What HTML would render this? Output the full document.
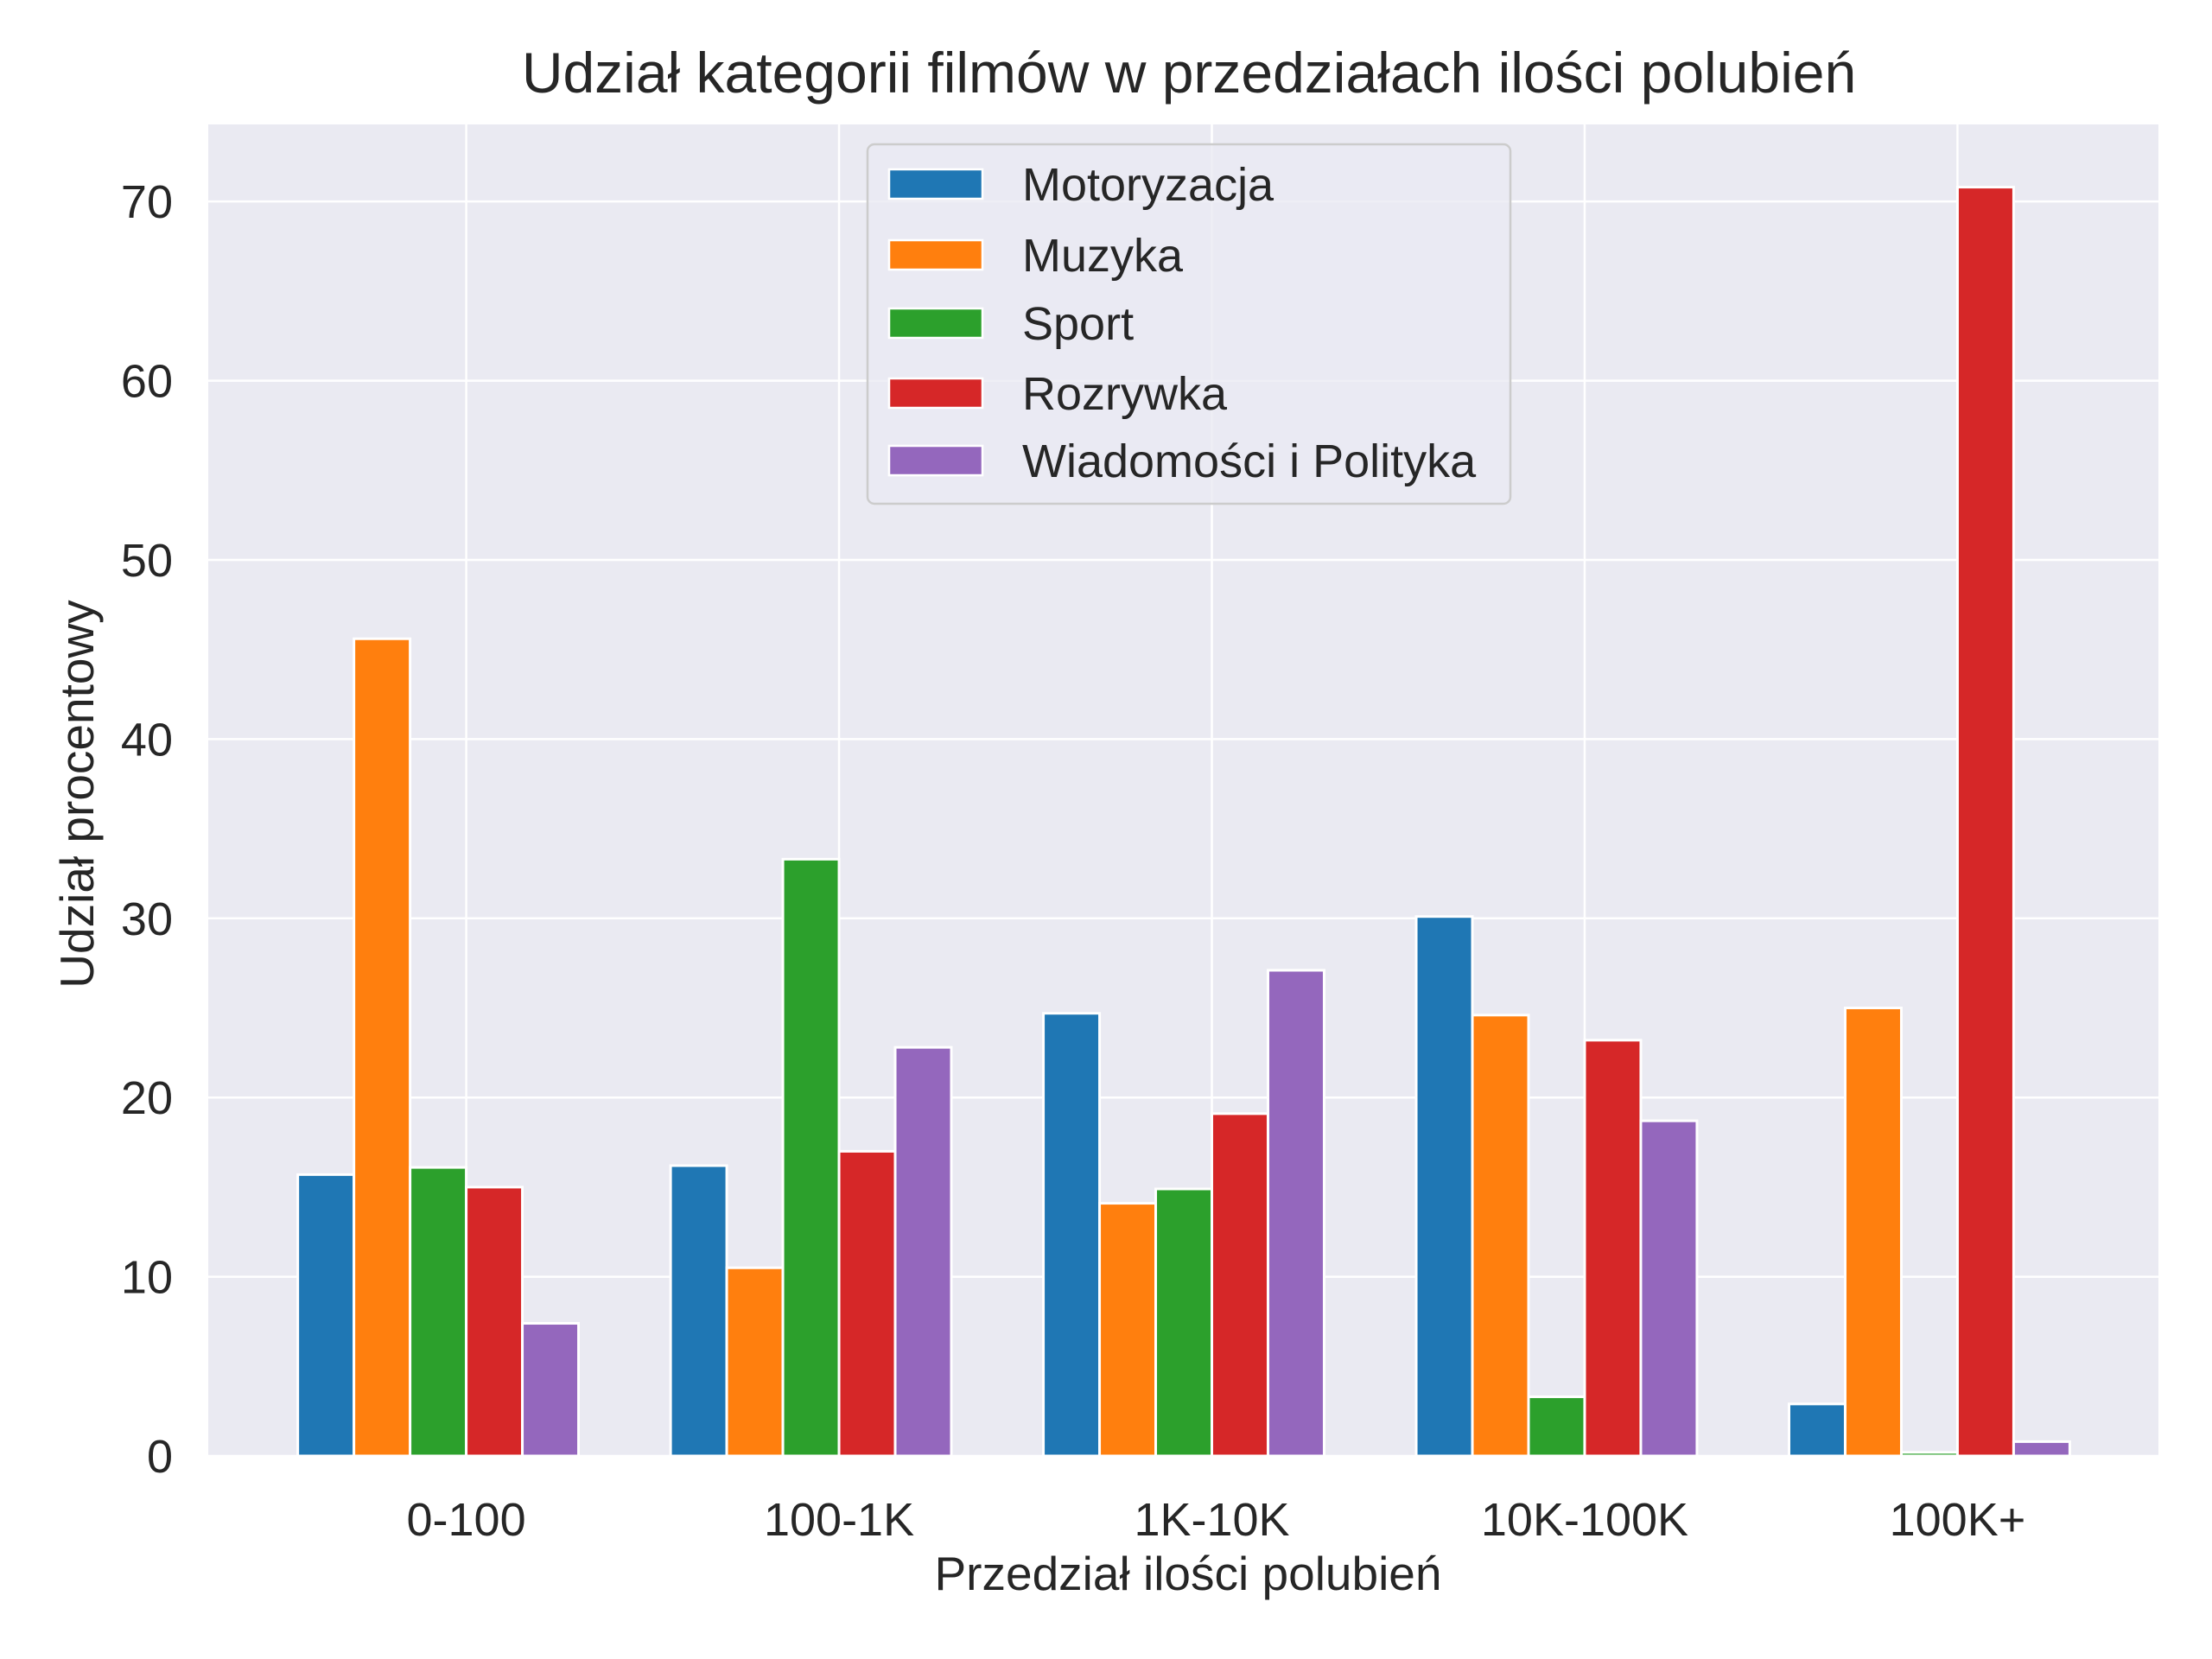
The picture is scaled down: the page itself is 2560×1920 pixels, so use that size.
<!DOCTYPE html>
<html><head><meta charset="utf-8"><style>
html,body{margin:0;padding:0;background:#fff;}
svg{display:block;font-family:"Liberation Sans",Arial,sans-serif;}
</style></head><body>
<svg id="chart" width="2560" height="1920" viewBox="0 0 2560 1920" xmlns="http://www.w3.org/2000/svg"></svg>
<script>
const categories = ["0-100","100-1K","1K-10K","10K-100K","100K+"];
const seriesNames = ["Motoryzacja","Muzyka","Sport","Rozrywka","Wiadomości i Polityka"];
const seriesColors = ["#1f77b4","#ff7f0e","#2ca02c","#d62728","#9467bd"];
const motoryzacja = [15.7,16.2,24.7,30.1,2.9];
const muzyka = [45.6,10.5,14.1,24.6,25.0];
const sport = [16.1,33.3,14.9,3.3,0.2];
const rozrywka = [15.0,17.0,19.1,23.2,70.8];
const wiadomosci = [7.4,22.8,27.1,18.7,0.8];
const yTicks = [0,10,20,30,40,50,60,70];

const seriesValues = [motoryzacja,muzyka,sport,rozrywka,wiadomosci];
const NS="http://www.w3.org/2000/svg";
const svg=document.getElementById('chart');
const L=241,R=2498,T=144,B=1685;
const x0=-0.692,x1=4.539,yMax=74.3;
const xs=v=>L+(v-x0)/(x1-x0)*(R-L);
const ys=v=>B-v/yMax*(B-T);
const bw=0.1506;
function mk(tag,attrs,parent){const e=document.createElementNS(NS,tag);for(const k in attrs)e.setAttribute(k,attrs[k]);(parent||svg).appendChild(e);return e;}

const bg=mk('rect',{x:L,y:T,width:R-L,height:B-T,fill:'#eaeaf2'});


yTicks.forEach(t=>{
  const g=mk('line',{x1:L,x2:R,y1:ys(t),y2:ys(t),stroke:'#fff','stroke-width':2.5});
  
  
  const tx=mk('text',{x:200,y:ys(t)+19,'text-anchor':'end','font-size':54,fill:'#262626'});
  tx.textContent=t;
  
  
});
categories.forEach((c,i)=>{
  const g=mk('line',{x1:xs(i),x2:xs(i),y1:T,y2:B,stroke:'#fff','stroke-width':2.5});
  
  
  const tx=mk('text',{x:xs(i),y:1777,'text-anchor':'middle','font-size':54,fill:'#262626'});
  tx.textContent=c;
  
  
});
seriesValues.forEach((vals,j)=>{
  vals.forEach((v,i)=>{
    const xl=xs(i+(j-3)*bw), xr=xs(i+(j-2)*bw);
    const r=mk('rect',{x:xl,y:ys(v),width:xr-xl,height:ys(0)-ys(v),fill:seriesColors[j],stroke:'#fff','stroke-width':3});
    
    
  });
});
const lg=mk('g',{});


mk('rect',{x:1004,y:167,width:744,height:416,rx:8,fill:'#eaeaf2',stroke:'#cccccc','stroke-width':2.5,'fill-opacity':0.8},lg);
const ly=[213,295,374,455,533];
seriesNames.forEach((n,j)=>{
  const p=mk('rect',{x:1029,y:ly[j]-17,width:108,height:34,fill:seriesColors[j],stroke:'#fff','stroke-width':2.5},lg);
  
  
  const t=mk('text',{x:1183,y:ly[j]+19,'font-size':54,fill:'#262626'},lg);
  t.textContent=n;
  
  
});
const title=mk('text',{x:1376,y:107,'text-anchor':'middle','font-size':66,fill:'#262626'});
title.textContent='Udział kategorii filmów w przedziałach ilości polubień';


const xl=mk('text',{x:1375,y:1840,'text-anchor':'middle','font-size':55,fill:'#262626'});
xl.textContent='Przedział ilości polubień';


const yl=mk('text',{x:0,y:0,'text-anchor':'middle','font-size':55,fill:'#262626',transform:'translate(108,919) rotate(-90)'});
yl.textContent='Udział procentowy';


</script>
</body></html>
